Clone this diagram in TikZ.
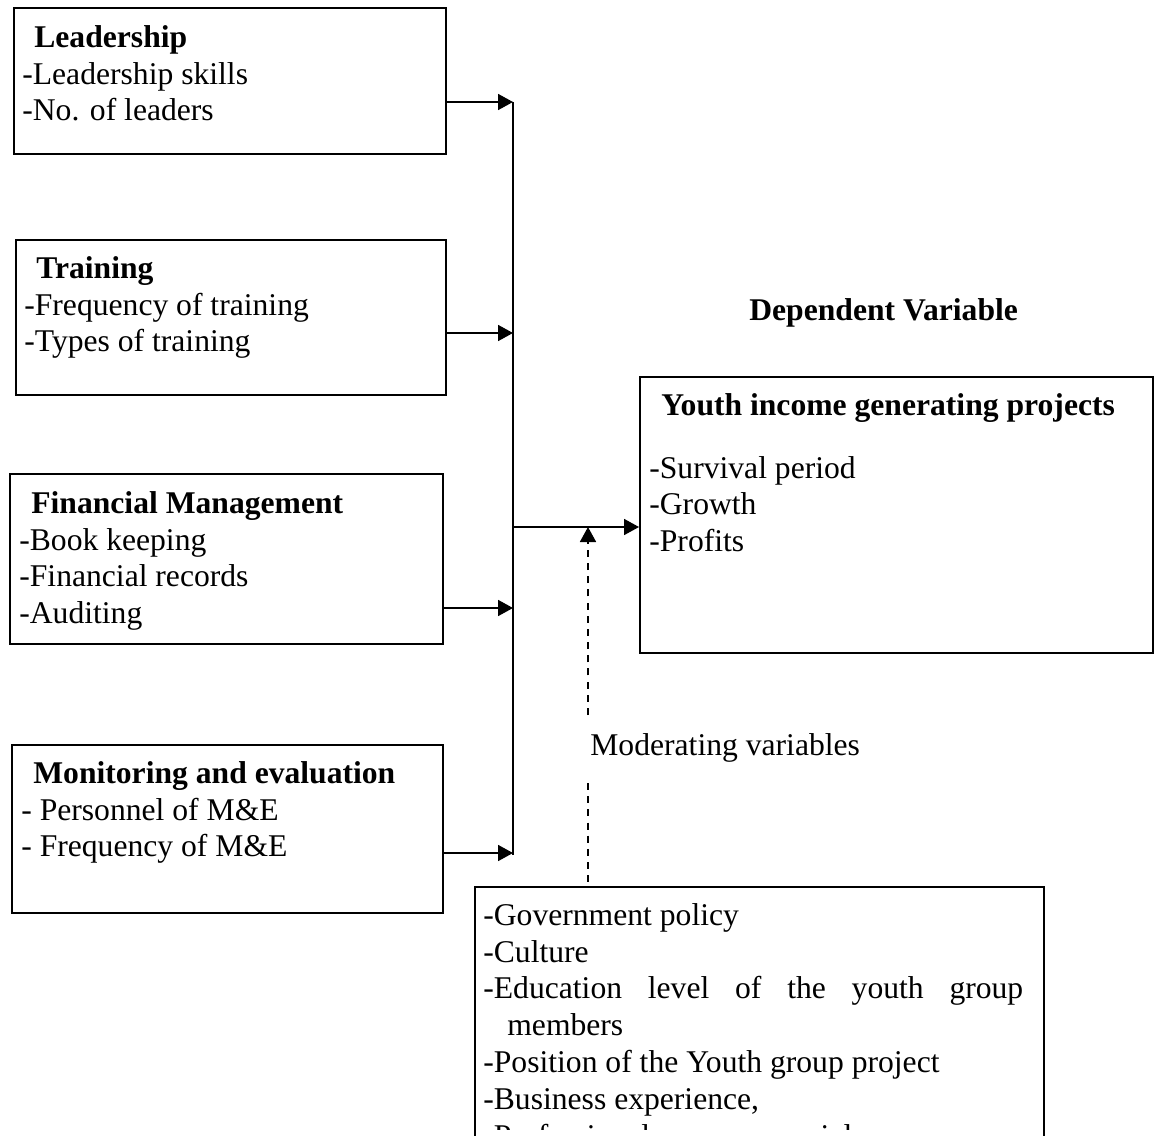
\documentclass[tikz,border=0pt]{standalone}
\usepackage{fontspec}
\setmainfont{Liberation Serif}
\usetikzlibrary{arrows.meta}
\newcommand{\boxtitle}[1]{\hspace*{0.24cm}\textbf{#1}}
\tikzset{
	varbox/.style={draw, line width=1pt, inner sep=0pt, anchor=north west},
	lines/.style={font=\fontsize{18}{21}\selectfont, align=left, inner sep=0pt, anchor=north west},
	link/.style={line width=1pt, -{Triangle[length=0.3cm,width=0.32cm]}},
	dashlink/.style={line width=1pt, dash pattern=on 4pt off 3.5pt},
}
\begin{document}
\begin{tikzpicture}[x=0.02cm, y=-0.02cm]
		\useasboundingbox (0,0) rectangle (1155,1135);
		\node[varbox, minimum width=8.64cm, minimum height=2.92cm] (lead) at (13,7) {};
		\node[varbox, minimum width=8.6cm, minimum height=3.1cm] (train) at (15,239) {};
		\node[varbox, minimum width=8.66cm, minimum height=3.4cm] (fin) at (9,473) {};
		\node[varbox, minimum width=8.62cm, minimum height=3.36cm] (mon) at (11,744) {};
		\node[varbox, minimum width=10.26cm, minimum height=5.52cm] (dep) at (639,376) {};
		\node[varbox, minimum width=11.38cm, minimum height=6cm] (mod) at (474,886) {};

		\node[lines] (leadtxt) at (22,21) {\strut\boxtitle{Leadership}\\-Leadership skills\\-No. of leaders};
		\node[lines] (traintxt) at (24,252) {\strut\boxtitle{Training}\\-Frequency of training\\-Types of training};
		\node[lines] (fintxt) at (19,487) {\strut\boxtitle{Financial Management}\\-Book keeping\\-Financial records\\-Auditing};
		\node[lines] (montxt) at (21,757) {\strut\boxtitle{Monitoring and evaluation}\\- Personnel of M\&E\\- Frequency of M\&E};
		\node[lines] (deptxt) at (649,389) {\strut\boxtitle{Youth income generating projects}\\[0.52cm]-Survival period\\-Growth\\-Profits};
		\begin{scope}
			\clip (476,888) rectangle (1040,1129);
			\node[lines] (modtxt) at (483,899) {\strut-Government policy\\-Culture\\\makebox[10.8cm][s]{-Education level of the youth group}\\\hspace*{0.48cm}members\\-Position of the Youth group project\\-Business experience,\\\makebox[7.38cm][s]{-Professional or social}};
		\end{scope}
		\node[lines] (depvar) at (749,294) {\strut\textbf{Dependent Variable}};
		\node[lines] (modvar) at (590,729) {\strut Moderating variables};

		\coordinate (b1) at (513,102);
		\coordinate (b2) at (513,333);
		\coordinate (b3) at (513,608);
		\coordinate (b4) at (513,853);
		\coordinate (mid) at (513,527);
		\coordinate (up) at (588,715);
		\coordinate (low) at (588,783);

		\draw[link] (lead.east |- b1) -- (b1);
		\draw[link] (train.east |- b2) -- (b2);
		\draw[link] (fin.east |- b3) -- (b3);
		\draw[link] (mon.east |- b4) -- (b4);
		\draw[line width=1pt] (b1) -- ([yshift=-0.04cm]b4);
		\draw[link] (mid) -- (dep.west |- mid);
		\draw[link, dashlink] (up) -- (up |- mid);
		\draw[dashlink] (low) -- (mod.north -| low);
	\end{tikzpicture}
\end{document}
